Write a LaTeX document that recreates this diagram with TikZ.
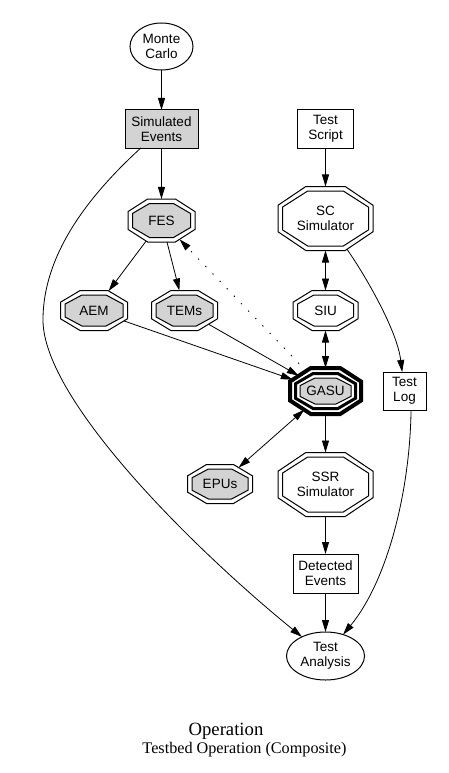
\documentclass[tikz,border=0pt]{standalone}
\usepackage{fontspec}
\setmainfont{Liberation Serif}
\newfontfamily\sansf{Liberation Sans}
\usetikzlibrary{shapes.geometric,arrows.meta}
\definecolor{lgray}{RGB}{211,211,211}
\newcommand\octside{9.2388}
\tikzset{
  octbase/.style={regular polygon, regular polygon sides=8, inner sep=0pt, outer sep=0pt, minimum size=10pt, transform shape, draw},
  lbl/.style={font=\sansf\fontsize{13.5}{15}\selectfont, align=center, inner sep=0pt},
  boxn/.style={draw, rectangle, inner sep=0pt, outer sep=0pt, line width=1pt, lbl},
  elln/.style={draw, ellipse, inner sep=0pt, outer sep=0pt, line width=1pt, lbl},
  tip/.tip={Triangle[length=12pt,width=7pt]},
  arr/.style={line width=0.8pt, -tip},
  darr/.style={line width=0.8pt, tip-tip},
  dotarr/.style={line width=0.9pt, dash pattern=on 1.3pt off 9pt, -tip},
  titlef/.style={inner sep=0pt, anchor=base},
}
\newcommand\dblocta[6]{%
  \node[octbase, line width=1pt, xscale={(#3-1)/\octside}, yscale={(#4-1)/\octside}] (#1) at (#2) {};
  \node[octbase, line width=1pt, fill=#5, xscale={(#3-10)/\octside}, yscale={(#4-10)/\octside}] (#1in) at (#2) {};
  \node[lbl] (#1txt) at (#2) {#6};
}
\begin{document}
\begin{tikzpicture}[x=1pt,y=-1pt]
\useasboundingbox (0,0) rectangle (448,773);
% plain nodes
\node[elln, minimum width=63pt, minimum height=47pt] (mc) at (161.5,46.5) {Monte\\Carlo};
\node[boxn, fill=lgray, minimum width=73pt, minimum height=38pt] (se) at (161.5,129) {Simulated\\Events};
\node[boxn, minimum width=56pt, minimum height=38pt] (ts) at (325.5,129) {Test\\Script};
\node[boxn, minimum width=43pt, minimum height=38pt] (tl) at (404.5,391) {Test\\Log};
\node[boxn, minimum width=65pt, minimum height=39pt] (de) at (325.5,573.5) {Detected\\Events};
\node[elln, minimum width=78pt, minimum height=48pt] (ta) at (325.5,656) {Test\\Analysis};
% octagons
\dblocta{fes}{161.5,220.5}{68}{44}{lgray}{FES}
\dblocta{scs}{325.5,218.5}{96}{65}{white}{SC\\Simulator}
\dblocta{aem}{94,310.5}{68}{41}{lgray}{AEM}
\dblocta{tems}{184.5,310.5}{67}{41}{lgray}{TEMs}
\dblocta{siu}{325.5,310.5}{66}{41}{white}{SIU}
\dblocta{epus}{220,484}{66}{40}{lgray}{EPUs}
\dblocta{ssr}{325.5,484.5}{96}{65}{white}{SSR\\Simulator}
% GASU triple bold octagon
\node[octbase, line width=4pt, xscale={71/\octside}, yscale={46/\octside}] (gasu) at (325.5,391) {};
\node[octbase, line width=3pt, xscale={60/\octside}, yscale={35/\octside}] (gasumid) at (325.5,391) {};
\node[octbase, line width=1pt, fill=lgray, xscale={51/\octside}, yscale={26/\octside}] (gasuin) at (325.5,391) {};
\node[lbl] (gasutxt) at (325.5,391) {GASU};
% edges
\draw[arr] (mc) -- (se);
\draw[arr] (se) -- (fes);
\draw[arr] (se) .. controls (95,190) and (43,250) .. (43,320)
                .. controls (43,400) and (195,550) .. (ta);
\draw[arr] (fes) -- (aem);
\draw[arr] (fes) -- (tems);
\draw[dotarr] (gasu) -- (fes);
\draw[arr] (aem) -- (gasu);
\draw[arr] (tems) -- (gasu);
\draw[arr] (ts) -- (scs);
\draw[darr] (scs) -- (siu);
\draw[darr] (siu) -- (gasu);
\draw[arr] (scs) .. controls (365,275) and (397,330) .. (tl);
\draw[darr] (gasu) -- (epus);
\draw[arr] (gasu) -- (ssr);
\draw[arr] (ssr) -- (de);
\draw[arr] (de) -- (ta);
\draw[arr] (tl.-71) .. controls (410,490) and (388,580) .. (ta);
% title
\node[titlef, font=\fontsize{18.7}{20}\selectfont] (t1) at (226,735) {Operation};
\node[titlef, font=\fontsize{16.2}{18}\selectfont] (t2) at (244.5,753) {Testbed Operation (Composite)};
\end{tikzpicture}
\end{document}
